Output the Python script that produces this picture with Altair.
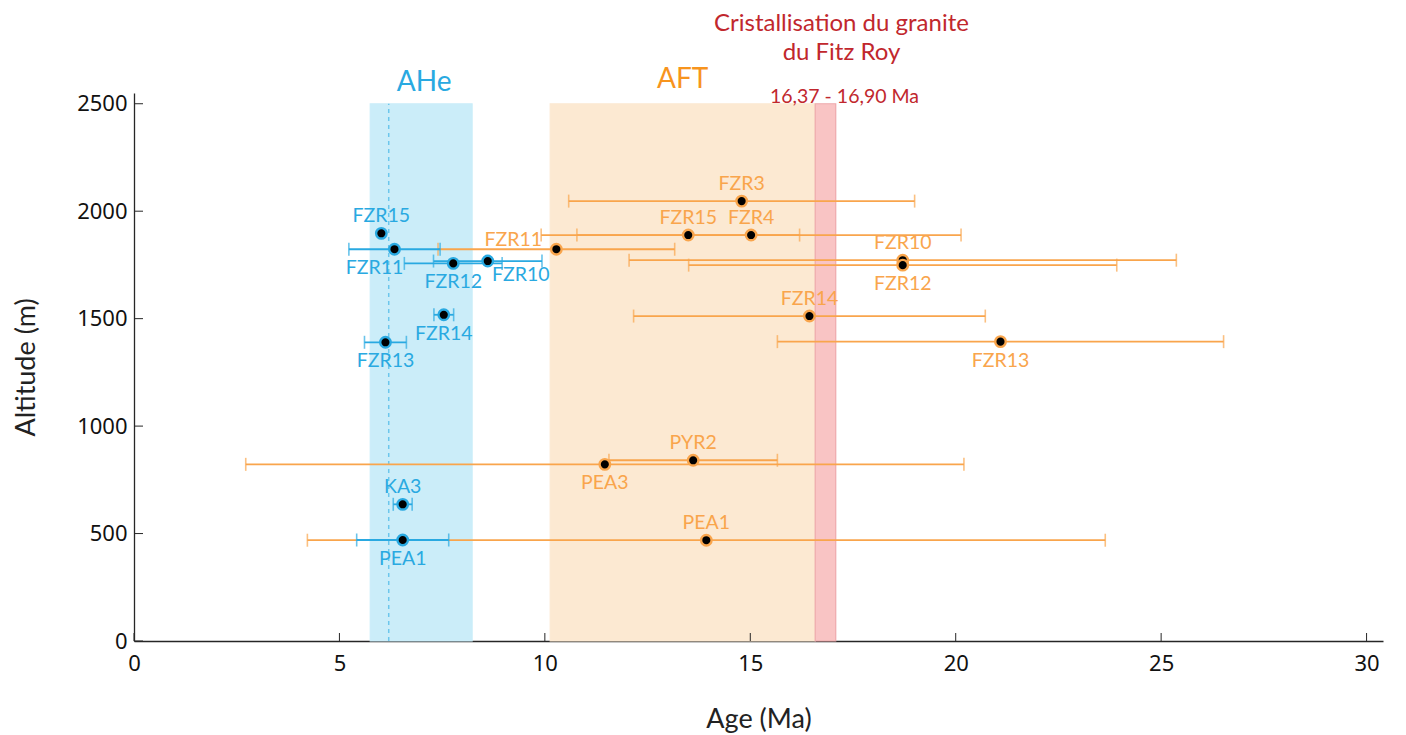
import altair as alt
import pandas as pd

# ---------------- data ----------------
ahe_names = ["FZR15", "FZR11", "FZR12", "FZR10", "FZR14", "FZR13", "KA3", "PEA1"]
ahe_age = [6.02, 6.34, 7.77, 8.61, 7.54, 6.12, 6.54, 6.54]
ahe_err = [0.0, 1.11, 1.19, 1.32, 0.24, 0.51, 0.23, 1.12]
ahe_alt = [1897, 1823, 1757, 1768, 1518, 1390, 636, 470]
ahe_pos = ["n", "sw", "s", "se", "s", "s", "n", "s"]

aft_names = ["FZR3", "FZR15", "FZR4", "FZR11", "FZR10", "FZR12", "FZR14", "FZR13", "PYR2", "PEA3", "PEA1"]
aft_age = [14.79, 13.49, 15.02, 10.28, 18.71, 18.71, 16.44, 21.09, 13.61, 11.46, 13.93]
aft_err = [4.21, 2.71, 5.11, 2.88, 6.66, 5.21, 4.28, 5.43, 2.05, 8.74, 9.71]
aft_alt = [2047, 1889, 1889, 1823, 1772, 1749, 1512, 1393, 841, 822, 469]
aft_pos = ["n", "n", "n", "nw", "n", "s", "n", "s", "n", "s", "n"]

band_names = ["AHe", "AFT", "Granite"]
band_start = [5.75, 10.13, 16.58]
band_end = [8.23, 16.58, 17.08]
band_top = 2500
ahe_mean_age = 6.2

x_ticks = [0, 5, 10, 15, 20, 25, 30]
y_ticks = [0, 500, 1000, 1500, 2000, 2500]

# ---------------- style ----------------
W, H = 1249, 548
BLUE = "#29A9E1"
ORANGE = "#F7941D"
RED_TXT = "#C1272D"
LABEL_FONT = "Lato"
AXIS_FONT = "Noto Sans"

xs = alt.Scale(domain=[0, 30.4], nice=False, zero=False)
ys = alt.Scale(domain=[0, 2550], nice=False, zero=False)
x_axis = alt.Axis(values=x_ticks, grid=False, ticks=False, labelFontSize=22,
                  labelFont=AXIS_FONT, labelColor="#111", labelPadding=12, format="d",
                  titleFont=LABEL_FONT, titleFontSize=27, titleFontWeight="normal",
                  titleColor="#222", titlePadding=32, domainColor="#262626",
                  domainWidth=1.3, labelFlush=False)
y_axis = alt.Axis(values=y_ticks, grid=False, ticks=False, labelFontSize=22,
                  labelFont=AXIS_FONT, labelColor="#111", labelPadding=7, format="d",
                  titleFont=LABEL_FONT, titleFontSize=27, titleFontWeight="normal",
                  titleColor="#222", titlePadding=36, domainColor="#262626",
                  domainWidth=1.3, labelFlush=False)
XT = "Age (Ma)"
YT = "Altitude (m)"

def X(f):
    return alt.X(f, scale=xs, axis=x_axis, title=XT)

def Y(f):
    return alt.Y(f, scale=ys, axis=y_axis, title=YT)

method_scale = alt.Scale(domain=["AHe", "AFT"], range=[BLUE, "#F9A54C"])
text_scale = alt.Scale(domain=["AHe", "AFT"], range=[BLUE, ORANGE])

samples = pd.concat([
    pd.DataFrame({"name": ahe_names, "age": ahe_age, "err": ahe_err, "alt": ahe_alt,
                  "pos": ahe_pos, "method": "AHe"}),
    pd.DataFrame({"name": aft_names, "age": aft_age, "err": aft_err, "alt": aft_alt,
                  "pos": aft_pos, "method": "AFT"}),
], ignore_index=True)
samples["lo"] = samples["age"] - samples["err"]
samples["hi"] = samples["age"] + samples["err"]
bars_df = samples[samples["err"] > 0]

bands_df = pd.DataFrame({"name": band_names, "start": band_start, "end": band_end,
                         "bottom": 0, "top": band_top})
bands_df["mid"] = (bands_df["start"] + bands_df["end"]) / 2

bands = alt.Chart(bands_df).mark_rect(strokeWidth=1.2).encode(
    x=X("start:Q"), x2="end:Q",
    y=Y("bottom:Q"), y2="top:Q",
    fill=alt.Fill("name:N", scale=alt.Scale(domain=band_names,
                  range=["#CBEDF9", "#FCE9D2", "#F9C4C4"]), legend=None),
    stroke=alt.Stroke("name:N", scale=alt.Scale(domain=band_names,
                      range=["#CBEDF9", "#FCE9D2", "#EEA9AC"]), legend=None),
)

dashed = alt.Chart(pd.DataFrame({"a": [ahe_mean_age], "b": [0], "t": [band_top]})).mark_rule(
    strokeDash=[4, 4], strokeWidth=1.5, color="#6CC6EC"
).encode(x=X("a:Q"), y=Y("b:Q"), y2="t:Q")

def err_layers(method):
    d = bars_df[bars_df["method"] == method]
    base = alt.Chart(d)
    col = alt.Color("method:N", scale=method_scale, legend=None)
    line = base.mark_rule(strokeWidth=1.8).encode(x=X("lo:Q"), x2="hi:Q", y=Y("alt:Q"), color=col)
    cap_lo = base.mark_tick(orient="vertical", size=13, thickness=1.6).encode(
        x=X("lo:Q"), y=Y("alt:Q"), color=col)
    cap_hi = base.mark_tick(orient="vertical", size=13, thickness=1.6).encode(
        x=X("hi:Q"), y=Y("alt:Q"), color=col)
    return [line, cap_lo, cap_hi]

def point_layer(method):
    d = samples[samples["method"] == method]
    return alt.Chart(d).mark_circle(
        size=110, fill="black", fillOpacity=1, strokeWidth=2.4, opacity=1,
        stroke=(BLUE if method == "AHe" else "#F9A54C")
    ).encode(x=X("age:Q"), y=Y("alt:Q"))

offsets = {"n": (0, -17), "s": (0, 19), "sw": (-20, 19), "se": (33, 14), "nw": (-43, -9)}
label_layers = []
for p, (dx, dy) in offsets.items():
    label_layers.append(
        alt.Chart(samples).transform_filter(alt.datum.pos == p).mark_text(
            font=LABEL_FONT, fontSize=19.5, dx=dx, dy=dy, baseline="middle", align="center"
        ).encode(
            x=X("age:Q"), y=Y("alt:Q"),
            text="name:N",
            color=alt.Color("method:N", scale=text_scale, legend=None))
    )

# inward axis ticks
xt = alt.Chart(pd.DataFrame({"t": x_ticks})).mark_rule(color="#262626", strokeWidth=1).encode(
    x=X("t:Q"), y=alt.value(H), y2=alt.value(H - 8))
yt = alt.Chart(pd.DataFrame({"t": y_ticks})).mark_rule(color="#262626", strokeWidth=1).encode(
    y=Y("t:Q"), x=alt.value(0), x2=alt.value(9))

# annotations above the bands
def band_text(name, text, color, size, dx, dy):
    d = bands_df[bands_df["name"] == name].assign(label=text)
    return alt.Chart(d).mark_text(font=LABEL_FONT, fontSize=size, color=color, dx=dx, dy=dy,
                                  baseline="middle", align="center").encode(
        x=X("mid:Q"), y=Y("top:Q"), text="label:N")

annots = [
    band_text("AHe", "AHe", BLUE, 28, 3, -21),
    band_text("AFT", "AFT", ORANGE, 28, 0, -24),
    band_text("Granite", "Cristallisation du granite", RED_TXT, 24, 16, -80),
    band_text("Granite", "du Fitz Roy", RED_TXT, 24, 16, -51),
    band_text("Granite", "16,37 - 16,90 Ma", RED_TXT, 19.5, 19, -7),
]

layers = ([bands, dashed] + err_layers("AFT") + err_layers("AHe")
          + [point_layer("AFT"), point_layer("AHe")] + label_layers + [xt, yt] + annots)

chart = alt.layer(*layers).properties(
    width=W, height=H,
    autosize=alt.AutoSizeParams(type="none"),
    padding={"left": 126, "top": 85, "right": 15, "bottom": 96},
).configure_view(stroke=None)

chart.save("out.html", embed_options={"renderer": "svg", "actions": False})
